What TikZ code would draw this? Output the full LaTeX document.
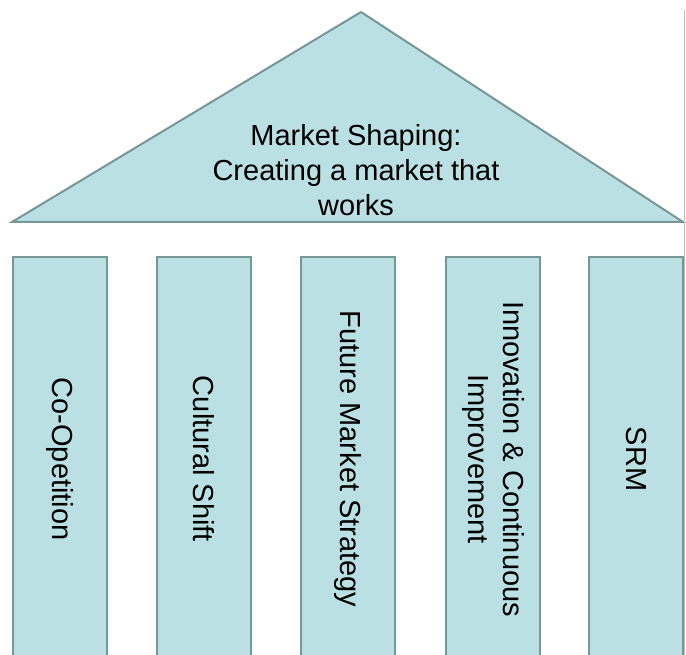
\documentclass[tikz,border=0pt]{standalone}
\usepackage{fontspec}
\setmainfont{Liberation Sans}
\usetikzlibrary{positioning}
\definecolor{pillarfill}{RGB}{187,224,227}
\definecolor{pillaredge}{RGB}{118,150,152}
\definecolor{pageedge}{RGB}{192,192,192}
\newcommand{\templefont}{\fontsize{29}{35}\selectfont}
\tikzset{
	roof/.style     = {draw=pillaredge, fill=pillarfill, line width=2pt},
	rooftext/.style = {align=center, font=\templefont, inner sep=0pt},
	pillar/.style   = {draw=pillaredge, fill=pillarfill, line width=2pt,
		rectangle, rotate=-90, minimum width=404pt, minimum height=94pt,
		inner sep=0pt, align=center, font=\templefont},
	edgeline/.style = {draw=pageedge, line width=1.2pt}
}

\begin{document}
\begin{tikzpicture}[x=1pt, y=-1pt]
	\useasboundingbox (0,0) rectangle (686,655);
	\clip (0,0) rectangle (686,655);

	% roof
	\coordinate (apex) at (361,12);
	\coordinate (eaveL) at (12,222);
	\coordinate (eaveR) at (683,222);
	\draw[roof] (eaveL) -- (apex) -- (eaveR) -- cycle;
	\node[rooftext] (roofT) at (356,170) {Market Shaping:\\Creating a market that\\works};

	% pillars
	\node[pillar] (p1) at (59.5,459) {Co-Opetition};
	\node[pillar] (p2) at (204,459) {Cultural Shift};
	\node[pillar] (p3) at (348,459) {Future Market Strategy};
	\node[pillar] (p4) at (493,459) {Innovation \& Continuous\\Improvement};
	\node[pillar] (p5) at (636,459) {SRM};

	% page edge on the right
	\coordinate (edgeT) at (684.8,10);
	\coordinate (edgeB) at (684.8,655);
	\draw[edgeline] (edgeT) -- (edgeB);
\end{tikzpicture}
\end{document}
